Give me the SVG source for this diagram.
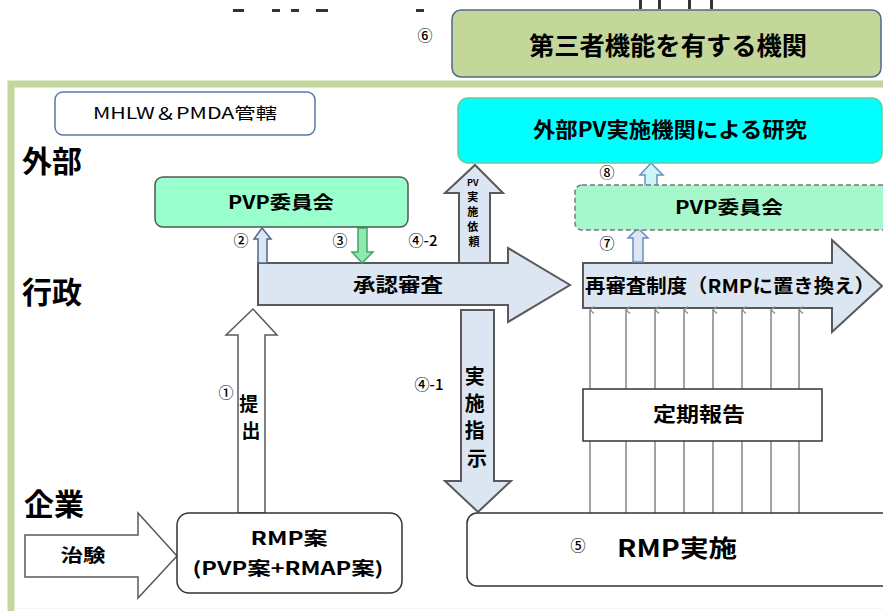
<svg xmlns="http://www.w3.org/2000/svg" width="883" height="611" viewBox="0 0 883 611">
<style>
text{font-family:"Noto Sans CJK JP","Noto Sans",sans-serif;fill:#000;}
.b{font-weight:bold;}
.c{text-anchor:middle;}
.num{font-size:15px;text-anchor:middle;font-family:"Noto Sans CJK JP",sans-serif;font-weight:500;}
.lbl{font-size:30px;font-weight:bold;}
.bigarrow{fill:#dce6f2;stroke:#595959;stroke-width:2;}
.thin{stroke:#8c8c8c;stroke-width:1.6;fill:none;}
.frag{fill:#333;}
</style>
<defs>
<marker id="ah" markerWidth="8" markerHeight="8" refX="4" refY="1" orient="auto" markerUnits="userSpaceOnUse" viewBox="0 0 8 8">
<path d="M0.5,5 L4,1 L7.5,5" fill="none" stroke="#8c8c8c" stroke-width="1.3"/>
</marker>
</defs>
<rect width="883" height="611" fill="#fff"/>
<g id="fragments">
<rect class="frag" x="233" y="9" width="11" height="3"/>
<rect class="frag" x="272" y="9" width="8" height="3"/>
<rect class="frag" x="291" y="9" width="8" height="3"/>
<rect class="frag" x="316" y="9" width="12" height="3"/>
<rect class="frag" x="416" y="9" width="8" height="3"/>
<rect class="frag" x="639" y="0" width="3" height="9"/>
<rect class="frag" x="658" y="0" width="3" height="9"/>
<rect class="frag" x="688" y="0" width="3" height="9"/>
<rect class="frag" x="710" y="0" width="3" height="9"/>
</g>
<g id="frame">
<path d="M11,620 L11,84 L890,84" fill="none" stroke="#c3d69b" stroke-width="7"/>
<line x1="15" y1="608.5" x2="883" y2="608.5" stroke="#f4f7ea" stroke-width="1"/>
</g>
<g id="third-party">
<rect x="452" y="10" width="429" height="67" rx="9" fill="#c4d79b" stroke="#50688a" stroke-width="1.5"/>
<text class="b c" x="668" y="55" font-size="25" textLength="278" lengthAdjust="spacingAndGlyphs">第三者機能を有する機関</text>
<text class="num" x="425" y="41">⑥</text>
</g>
<g id="mhlw">
<rect x="55" y="92" width="260" height="43" rx="8" fill="#fff" stroke="#5a78a8" stroke-width="1.5"/>
<text class="c" x="185" y="119" font-size="16" textLength="184" lengthAdjust="spacingAndGlyphs">MHLW＆PMDA管轄</text>
</g>
<g id="row-labels">
<text class="lbl" x="22" y="172">外部</text>
<text class="lbl" x="22" y="303">行政</text>
<text class="lbl" x="24" y="515">企業</text>
</g>
<g id="connectors">
<polygon class="bigarrow" points="459,263 459,193 445,193 475,165 503,193 490,193 490,263"/>
<polygon class="bigarrow" points="258,263 508,263 508,248 570,285 508,322 508,305 258,305"/>
<text class="b c" x="398" y="292" font-size="19" textLength="90" lengthAdjust="spacingAndGlyphs">承認審査</text>
<text class="b c" font-size="11">
<tspan x="474" y="186" font-size="9">PV</tspan>
<tspan x="474" y="201">実</tspan>
<tspan x="474" y="216">施</tspan>
<tspan x="474" y="231">依</tspan>
<tspan x="474" y="246">頼</tspan>
</text>
<polygon class="bigarrow" points="461,310 494,310 494,481 511,481 478,512 445,481 461,481"/>
<text class="b c" font-size="20">
<tspan x="477" y="384">実</tspan>
<tspan x="477" y="411">施</tspan>
<tspan x="477" y="438">指</tspan>
<tspan x="477" y="466">示</tspan>
</text>
<polygon class="bigarrow" points="583,263 832,263 832,240 882,286 832,332 832,308 583,308"/>
<text class="b" x="585" y="293" font-size="19" textLength="290" lengthAdjust="spacingAndGlyphs">再審査制度（RMPに置き換え）</text>
<line class="thin" x1="590" y1="513" x2="590" y2="310" marker-end="url(#ah)"/>
<line class="thin" x1="626" y1="513" x2="626" y2="310" marker-end="url(#ah)"/>
<line class="thin" x1="655" y1="513" x2="655" y2="310" marker-end="url(#ah)"/>
<line class="thin" x1="684" y1="513" x2="684" y2="310" marker-end="url(#ah)"/>
<line class="thin" x1="713" y1="513" x2="713" y2="310" marker-end="url(#ah)"/>
<line class="thin" x1="742" y1="513" x2="742" y2="310" marker-end="url(#ah)"/>
<line class="thin" x1="771" y1="513" x2="771" y2="310" marker-end="url(#ah)"/>
<line class="thin" x1="799" y1="513" x2="799" y2="310" marker-end="url(#ah)"/>
<polygon points="258,263 258,239 254,239 262,228 271,239 267,239 267,263" fill="#dce6f2" stroke="#50688a" stroke-width="1.5"/>
<polygon points="358,228 367,228 367,252 373,252 362,263 352,252 358,252" fill="#8fe8b0" stroke="#3aa86a" stroke-width="1.5"/>
<polygon points="645,187 645,175 640,175 651,163 663,175 657,175 657,187" fill="#ccf5f5" stroke="#6a8fbf" stroke-width="1.5"/>
<polygon points="633,262 633,238 628,238 638,228 648,238 643,238 643,262" fill="#dce6f2" stroke="#6a8fbf" stroke-width="1.5"/>
<polygon points="238,513 238,335 226,335 253,309 277,335 265,335 265,513" fill="#fff" stroke="#595959" stroke-width="1.5"/>
<text class="b c" font-size="19">
<tspan x="251" y="411">提</tspan>
<tspan x="251" y="438">出</tspan>
</text>
<polygon points="25,535 138,535 138,513 177,556 138,598 138,577 25,577" fill="#fff" stroke="#595959" stroke-width="1.5"/>
<text class="b c" x="83" y="562" font-size="18" textLength="45" lengthAdjust="spacingAndGlyphs">治験</text>
<text class="num" x="241" y="246">②</text>
<text class="num" x="340" y="246">③</text>
<text class="num" x="423" y="246">④-2</text>
<text class="num" x="607" y="178">⑧</text>
<text class="num" x="607" y="249">⑦</text>
<text class="num" x="226" y="398">①</text>
<text class="num" x="429" y="390">④-1</text>
</g>
<g id="pvp-left">
<rect x="155" y="177" width="253" height="50" rx="8" fill="#99ffcc" stroke="#555" stroke-width="1.5"/>
<text class="b c" x="281" y="209" font-size="18" textLength="106" lengthAdjust="spacingAndGlyphs">PVP委員会</text>
</g>
<g id="external-pv">
<rect x="458" y="98" width="424" height="65" rx="10" fill="#00ffff" stroke="#66cc99" stroke-width="1.5"/>
<text class="b c" x="670" y="137" font-size="21" textLength="274" lengthAdjust="spacingAndGlyphs">外部PV実施機関による研究</text>
</g>
<g id="pvp-right">
<rect x="575" y="185" width="320" height="45" rx="7" fill="#a6f7cc" stroke="#777" stroke-width="1.5" stroke-dasharray="5,3"/>
<text class="b c" x="729" y="214" font-size="18" textLength="108" lengthAdjust="spacingAndGlyphs">PVP委員会</text>
</g>
<g id="teiki">
<rect x="583" y="389" width="239" height="52" fill="#fff" stroke="#333" stroke-width="1.5"/>
<text class="b c" x="699" y="422" font-size="20" textLength="92" lengthAdjust="spacingAndGlyphs">定期報告</text>
</g>
<g id="rmp-an">
<rect x="177" y="513" width="225" height="80" rx="12" fill="#fff" stroke="#333" stroke-width="1.5"/>
<text class="b c" x="289" y="545" font-size="18" textLength="77" lengthAdjust="spacingAndGlyphs">RMP案</text>
<text class="b c" x="288" y="575" font-size="18" textLength="191" lengthAdjust="spacingAndGlyphs">(PVP案+RMAP案)</text>
</g>
<g id="rmp-jisshi">
<rect x="467" y="513" width="430" height="73" rx="10" fill="#fff" stroke="#333" stroke-width="1.5"/>
<text class="num" x="578" y="551">⑤</text>
<text class="b" x="617" y="557" font-size="24" textLength="120" lengthAdjust="spacingAndGlyphs">RMP実施</text>
</g>
</svg>
